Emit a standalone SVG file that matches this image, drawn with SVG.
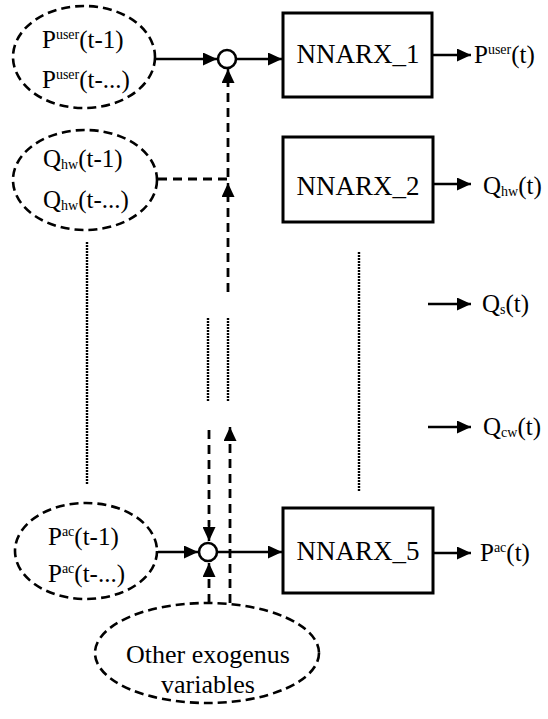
<svg xmlns="http://www.w3.org/2000/svg" width="548" height="719" viewBox="0 0 548 719">
<defs>
<style>
.sm{font-size:14px}
.ell{fill:none;stroke:#000;stroke-width:2.6;stroke-dasharray:9 5}
.box{fill:#fff;stroke:#000;stroke-width:3}
.sum{fill:#fff;stroke:#000;stroke-width:2.6}
.solid{fill:none;stroke:#000;stroke-width:2.5}
.dash{fill:none;stroke:#000;stroke-width:2.8;stroke-dasharray:9 6}
.dot{fill:none;stroke:#000;stroke-width:2.4;stroke-dasharray:2 1}
</style>
<marker id="arr" markerUnits="userSpaceOnUse" markerWidth="15" markerHeight="13" refX="14" refY="6.5" orient="auto">
<path d="M0,0 L14,6.5 L0,13 Z" fill="#000"/>
</marker>
</defs>
<rect width="548" height="719" fill="#fff"/>

<g id="connectors">
<line class="solid" x1="156" y1="59" x2="217" y2="59" marker-end="url(#arr)"/>
<line class="solid" x1="236" y1="59" x2="282" y2="59" marker-end="url(#arr)"/>
<line class="solid" x1="433" y1="55" x2="471" y2="55" marker-end="url(#arr)"/>
<path class="dash" d="M228,177 L228,82"/>
<line class="solid" x1="228" y1="80" x2="228" y2="69" marker-end="url(#arr)"/>
<line class="dash" x1="158" y1="179" x2="228" y2="179"/>
<path class="dash" d="M228,292 L228,196"/>
<line class="solid" x1="228" y1="196" x2="228" y2="183" marker-end="url(#arr)"/>
<line class="solid" x1="433" y1="184" x2="471" y2="184" marker-end="url(#arr)"/>
<line class="solid" x1="428" y1="304" x2="471" y2="304" marker-end="url(#arr)"/>
<line class="solid" x1="428" y1="427" x2="471" y2="427" marker-end="url(#arr)"/>
<line class="dot" x1="87" y1="242" x2="87" y2="484"/>
<line class="dot" x1="359" y1="252" x2="359" y2="492"/>
<line class="dot" x1="208" y1="318" x2="208" y2="402"/>
<line class="dot" x1="228" y1="318" x2="228" y2="402"/>
<path class="dash" d="M209,430 L209,526"/>
<line class="solid" x1="209" y1="526" x2="209" y2="541" marker-end="url(#arr)"/>
<path class="dash" d="M230,603 L230,441"/>
<line class="solid" x1="230" y1="441" x2="230" y2="427" marker-end="url(#arr)"/>
<path class="dash" d="M209,603 L209,577"/>
<line class="solid" x1="209" y1="577" x2="209" y2="563" marker-end="url(#arr)"/>
<line class="solid" x1="158" y1="552" x2="198" y2="552" marker-end="url(#arr)"/>
<line class="solid" x1="218" y1="552" x2="282" y2="552" marker-end="url(#arr)"/>
<line class="solid" x1="433" y1="553" x2="471" y2="553" marker-end="url(#arr)"/>
</g>

<g id="in1">
<ellipse class="ell" cx="84" cy="57" rx="71" ry="51"/>
<text font-family="Liberation Serif" font-size="25" x="42" y="48">P<tspan class="sm" dy="-9">user</tspan><tspan dy="9">(t-1)</tspan></text>
<text font-family="Liberation Serif" font-size="25" x="42" y="88">P<tspan class="sm" dy="-9">user</tspan><tspan dy="9">(t-...)</tspan></text>
</g>

<g id="sum1">
<circle class="sum" cx="227" cy="59" r="9"/>
</g>

<g id="nn1">
<rect class="box" x="283" y="13" width="149" height="84"/>
<text font-family="Liberation Serif" font-size="27" text-anchor="middle" x="358" y="63">NNARX_1</text>
</g>
<g id="out1"><text font-family="Liberation Serif" font-size="25" x="474" y="63">P<tspan class="sm" dy="-9">user</tspan><tspan dy="9">(t)</tspan></text></g>

<g id="in2">
<ellipse class="ell" cx="85" cy="180" rx="72" ry="50"/>
<text font-family="Liberation Serif" font-size="25" x="43" y="167">Q<tspan class="sm" dy="2">hw</tspan><tspan dy="-2">(t-1)</tspan></text>
<text font-family="Liberation Serif" font-size="25" x="43" y="208">Q<tspan class="sm" dy="2">hw</tspan><tspan dy="-2">(t-...)</tspan></text>
</g>

<g id="nn2">
<rect class="box" x="283" y="137" width="150" height="85"/>
<text font-family="Liberation Serif" font-size="27" text-anchor="middle" x="358" y="195">NNARX_2</text>
</g>
<g id="out2"><text font-family="Liberation Serif" font-size="25" x="483" y="194">Q<tspan class="sm" dy="2">hw</tspan><tspan dy="-2">(t)</tspan></text></g>

<g id="out3"><text font-family="Liberation Serif" font-size="25" x="482" y="312">Q<tspan class="sm" dy="2">s</tspan><tspan dy="-2">(t)</tspan></text></g>
<g id="out4"><text font-family="Liberation Serif" font-size="25" x="483" y="435">Q<tspan class="sm" dy="2">cw</tspan><tspan dy="-2">(t)</tspan></text></g>

<g id="in5">
<ellipse class="ell" cx="86" cy="551" rx="71" ry="48"/>
<text font-family="Liberation Serif" font-size="25" x="48" y="545">P<tspan class="sm" dy="-9">ac</tspan><tspan dy="9">(t-1)</tspan></text>
<text font-family="Liberation Serif" font-size="25" x="48" y="582">P<tspan class="sm" dy="-9">ac</tspan><tspan dy="9">(t-...)</tspan></text>
</g>

<g id="sum5">
<circle class="sum" cx="208" cy="552" r="9"/>
</g>

<g id="nn5">
<rect class="box" x="283" y="508" width="150" height="85"/>
<text font-family="Liberation Serif" font-size="27" text-anchor="middle" x="358" y="560">NNARX_5</text>
</g>
<g id="out5"><text font-family="Liberation Serif" font-size="25" x="480" y="561">P<tspan class="sm" dy="-9">ac</tspan><tspan dy="9">(t)</tspan></text></g>

<g id="exo">
<ellipse class="ell" cx="207" cy="653" rx="112" ry="50"/>
<text font-family="Liberation Serif" font-size="26" text-anchor="middle" x="208" y="663">Other exogenus</text>
<text font-family="Liberation Serif" font-size="26" text-anchor="middle" x="208" y="693">variables</text>
</g>
</svg>
